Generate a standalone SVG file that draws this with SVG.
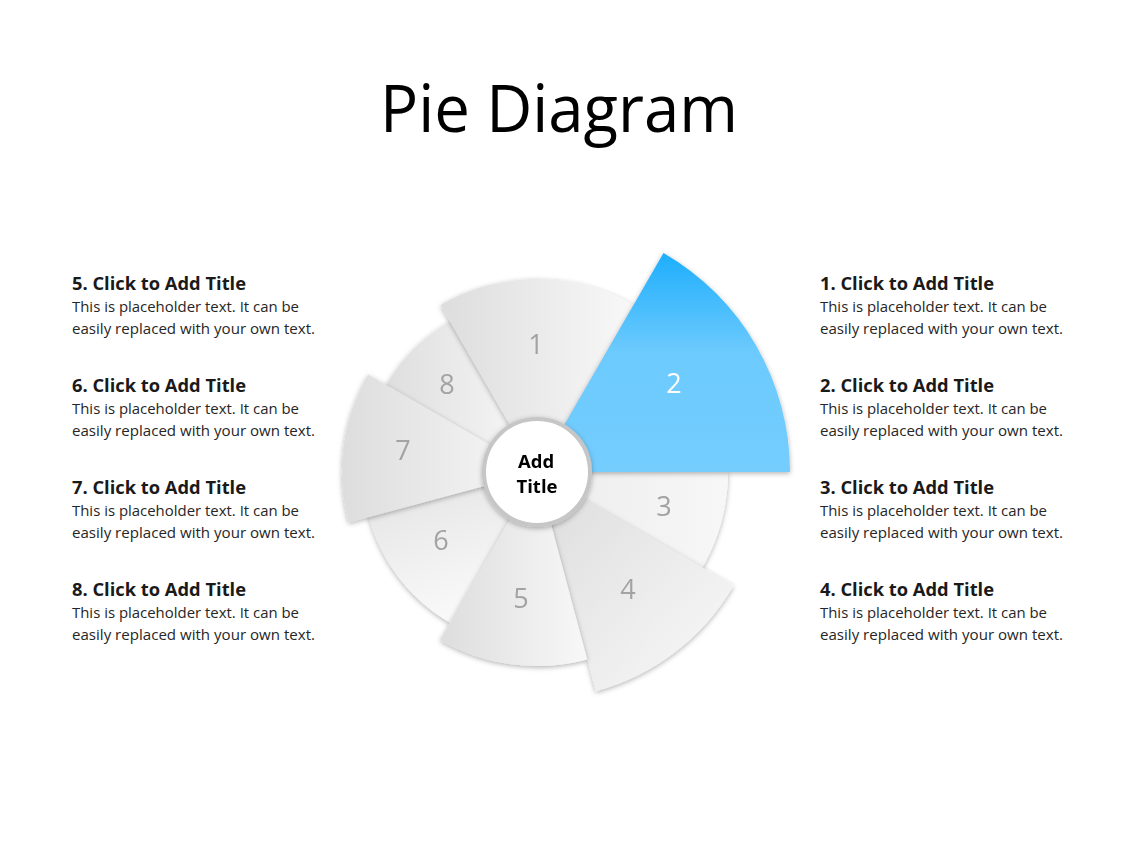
<svg xmlns="http://www.w3.org/2000/svg" width="1128" height="846" viewBox="0 0 1128 846">
<style>
.title{font-family:"Open Sans","Liberation Sans",sans-serif;font-size:65px;fill:#000}
.ht{font-family:"Open Sans","Liberation Sans",sans-serif;font-size:17.5px;font-weight:bold;fill:#1a1a1a}
.bt{font-family:"Open Sans","Liberation Sans",sans-serif;font-size:14.5px;fill:#262626}
.num{font-family:"Open Sans","Liberation Sans",sans-serif;font-size:27px;fill:#a3a3a3;text-anchor:middle}
.ctr{font-family:"Open Sans","Liberation Sans",sans-serif;font-size:18.5px;font-weight:bold;fill:#000;text-anchor:middle}
.sl{filter:url(#sh)}
</style>
<defs>
<filter id="sh" x="-20%" y="-20%" width="140%" height="140%">
<feDropShadow dx="0" dy="1.5" stdDeviation="2.5" flood-color="#000" flood-opacity="0.3"/>
</filter>
<linearGradient id="gh" x1="0" y1="0" x2="1" y2="0">
<stop offset="0" stop-color="#dddddd"/><stop offset="1" stop-color="#f8f8f8"/>
</linearGradient>
<linearGradient id="gd" x1="0" y1="0" x2="1" y2="1">
<stop offset="0" stop-color="#dcdcdc"/><stop offset="1" stop-color="#f9f9f9"/>
</linearGradient>
<linearGradient id="gv" x1="0" y1="0" x2="0.4" y2="1">
<stop offset="0" stop-color="#e2e2e2"/><stop offset="1" stop-color="#f9f9f9"/>
</linearGradient>
<linearGradient id="gl" x1="0" y1="0" x2="1" y2="0">
<stop offset="0" stop-color="#ececec"/><stop offset="1" stop-color="#f7f7f7"/>
</linearGradient>
<linearGradient id="gb" x1="0" y1="0" x2="0" y2="1">
<stop offset="0" stop-color="#1eaefc"/><stop offset="0.45" stop-color="#6ccafd"/><stop offset="1" stop-color="#74cdfe"/>
</linearGradient>
</defs>
<rect width="1128" height="846" fill="#fff"/>
<text class="title" x="380" y="132" textLength="358" lengthAdjust="spacingAndGlyphs">Pie Diagram</text>

<g id="slice3" class="sl"><path d="M537,472 L672.1,607.1 A191,191 0 0 0 728,472 Z" fill="url(#gl)"/><text class="num" x="664" y="516">3</text></g>
<g id="slice6" class="sl"><path d="M537,472 L365.6,502.2 A174,174 0 0 0 450,622.7 Z" fill="url(#gv)"/><text class="num" x="441" y="550">6</text></g>
<g id="slice8" class="sl"><path d="M537,472 L450,321.3 A174,174 0 0 0 379.3,398.5 Z" fill="url(#gh)"/><text class="num" x="447" y="394">8</text></g>
<g id="slice1" class="sl"><path d="M537,472 L633.5,304.9 A193,193 0 0 0 440.5,304.9 Z" fill="url(#gh)"/><text class="num" x="536" y="354">1</text></g>
<g id="slice7" class="sl"><path d="M537,472 L368.1,374.5 A194,194 0 0 0 348.6,522.5 Z" fill="url(#gh)"/><text class="num" x="403" y="460">7</text></g>
<g id="slice4" class="sl"><path d="M537,472 L595.8,691.3 A227,227 0 0 0 733.6,585.5 Z" fill="url(#gd)"/><text class="num" x="628" y="599">4</text></g>
<g id="slice5" class="sl"><path d="M537,472 L440,640 A194,194 0 0 0 587.2,659.4 Z" fill="url(#gh)"/><text class="num" x="521" y="608">5</text></g>
<g id="slice2" class="sl"><path d="M537,472 L790,472 A253,253 0 0 0 663.5,252.9 Z" fill="url(#gb)"/><text class="num" x="674" y="393" fill="#fff" style="fill:#fff">2</text></g>

<g id="center" class="sl">
<circle cx="537" cy="472" r="53" fill="#fff" stroke="#c6c6c6" stroke-width="4"/>
<text class="ctr" x="536" y="468">Add</text>
<text class="ctr" x="537" y="493">Title</text>
</g>

<g id="item5">
<text class="ht" x="72" y="290" textLength="174" lengthAdjust="spacingAndGlyphs">5. Click to Add Title</text>
<text class="bt" x="72" y="312" textLength="227" lengthAdjust="spacingAndGlyphs">This is placeholder  text. It can be</text>
<text class="bt" x="72" y="334" textLength="243" lengthAdjust="spacingAndGlyphs">easily replaced  with your own text.</text>
</g>
<g id="item6">
<text class="ht" x="72" y="392" textLength="174" lengthAdjust="spacingAndGlyphs">6. Click to Add Title</text>
<text class="bt" x="72" y="414" textLength="227" lengthAdjust="spacingAndGlyphs">This is placeholder  text. It can be</text>
<text class="bt" x="72" y="436" textLength="243" lengthAdjust="spacingAndGlyphs">easily replaced  with your own text.</text>
</g>
<g id="item7">
<text class="ht" x="72" y="494" textLength="174" lengthAdjust="spacingAndGlyphs">7. Click to Add Title</text>
<text class="bt" x="72" y="516" textLength="227" lengthAdjust="spacingAndGlyphs">This is placeholder  text. It can be</text>
<text class="bt" x="72" y="538" textLength="243" lengthAdjust="spacingAndGlyphs">easily replaced  with your own text.</text>
</g>
<g id="item8">
<text class="ht" x="72" y="596" textLength="174" lengthAdjust="spacingAndGlyphs">8. Click to Add Title</text>
<text class="bt" x="72" y="618" textLength="227" lengthAdjust="spacingAndGlyphs">This is placeholder  text. It can be</text>
<text class="bt" x="72" y="640" textLength="243" lengthAdjust="spacingAndGlyphs">easily replaced  with your own text.</text>
</g>
<g id="item1">
<text class="ht" x="820" y="290" textLength="174" lengthAdjust="spacingAndGlyphs">1. Click to Add Title</text>
<text class="bt" x="820" y="312" textLength="227" lengthAdjust="spacingAndGlyphs">This is placeholder  text. It can be</text>
<text class="bt" x="820" y="334" textLength="243" lengthAdjust="spacingAndGlyphs">easily replaced  with your own text.</text>
</g>
<g id="item2">
<text class="ht" x="820" y="392" textLength="174" lengthAdjust="spacingAndGlyphs">2. Click to Add Title</text>
<text class="bt" x="820" y="414" textLength="227" lengthAdjust="spacingAndGlyphs">This is placeholder  text. It can be</text>
<text class="bt" x="820" y="436" textLength="243" lengthAdjust="spacingAndGlyphs">easily replaced  with your own text.</text>
</g>
<g id="item3">
<text class="ht" x="820" y="494" textLength="174" lengthAdjust="spacingAndGlyphs">3. Click to Add Title</text>
<text class="bt" x="820" y="516" textLength="227" lengthAdjust="spacingAndGlyphs">This is placeholder  text. It can be</text>
<text class="bt" x="820" y="538" textLength="243" lengthAdjust="spacingAndGlyphs">easily replaced  with your own text.</text>
</g>
<g id="item4">
<text class="ht" x="820" y="596" textLength="174" lengthAdjust="spacingAndGlyphs">4. Click to Add Title</text>
<text class="bt" x="820" y="618" textLength="227" lengthAdjust="spacingAndGlyphs">This is placeholder  text. It can be</text>
<text class="bt" x="820" y="640" textLength="243" lengthAdjust="spacingAndGlyphs">easily replaced  with your own text.</text>
</g>
<g id="connectors"></g>
</svg>
